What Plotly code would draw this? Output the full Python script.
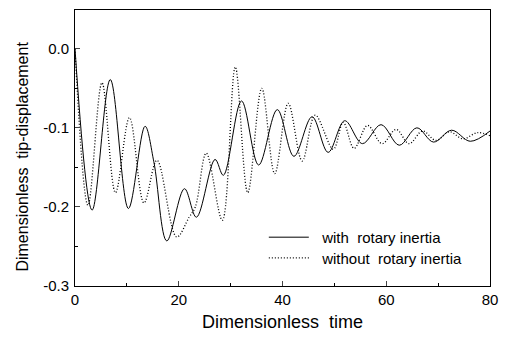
import plotly.graph_objects as go

# with rotary inertia (solid) (extrema points)
t_with = [0, 3.3, 6.8, 10.3, 13.5, 15.2, 17.7, 21.1, 23.4, 27.0, 28.6, 32.1, 35.4, 39.0,
          42.2, 45.7, 48.8, 52.0, 55.4, 59.0, 62.5, 65.9, 69.1, 72.6, 76.2, 80]
y_with = [0.0, -0.204, -0.039, -0.202, -0.098, -0.143, -0.243, -0.177, -0.213, -0.140, -0.160,
          -0.066, -0.147, -0.077, -0.136, -0.086, -0.131, -0.091, -0.120, -0.096, -0.122,
          -0.100, -0.118, -0.103, -0.117, -0.104]

# without rotary inertia (dotted)
t_without = [0, 2.5, 5.2, 7.8, 10.5, 13.3, 15.8, 19.6, 22.0, 23.2, 25.3, 28.4, 30.9, 33.3,
             36.0, 38.5, 41.1, 43.8, 46.3, 49.8, 51.7, 53.8, 56.4, 59.2, 61.9, 64.4, 67.0,
             69.6, 72.2, 74.8, 77.6, 80]
y_without = [0.0, -0.198, -0.043, -0.182, -0.087, -0.195, -0.141, -0.238, -0.213, -0.200,
             -0.132, -0.217, -0.023, -0.182, -0.050, -0.158, -0.069, -0.142, -0.084, -0.127,
             -0.093, -0.126, -0.097, -0.120, -0.102, -0.120, -0.104, -0.116, -0.105, -0.114,
             -0.106, -0.110]

x_ticks = [0, 20, 40, 60, 80]
y_ticks = [-0.3, -0.2, -0.1, 0.0]
y_ticktext = ["-0.3", "-0.2", "-0.1", "0.0"]

FONT = "Liberation Sans, Arial, sans-serif"
GAP = "\u00a0\u00a0"

fig = go.Figure()
fig.add_trace(go.Scatter(x=t_with, y=y_with, mode="lines",
                         name=GAP + "with\u00a0\u00a0rotary inertia", legend="legend",
                         line=dict(color="black", width=1, shape="spline", smoothing=1.0)))
fig.add_trace(go.Scatter(x=t_without, y=y_without, mode="lines",
                         name=GAP + "without\u00a0\u00a0rotary inertia", legend="legend2",
                         line=dict(color="black", width=1.3, dash="1px,2px",
                                   shape="spline", smoothing=1.0)))

leg_common = dict(xanchor="left", yanchor="middle", bgcolor="rgba(0,0,0,0)",
                  font=dict(size=15), itemwidth=40)

fig.update_layout(
    width=507, height=338,
    margin=dict(l=75, r=12, t=9, b=51),
    paper_bgcolor="white", plot_bgcolor="white",
    font=dict(family=FONT, size=15, color="black"),
    showlegend=True,
    legend=dict(x=0.455, y=0.176, **leg_common),
    legend2=dict(x=0.455, y=0.101, **leg_common),
    xaxis=dict(range=[0, 80], tickvals=x_ticks, ticks="inside", ticklen=5,
               showgrid=False, zeroline=False, showline=True, linecolor="black",
               linewidth=1, mirror=True,
               minor=dict(dtick=10, ticks="inside", ticklen=3, tickcolor="black"),
               title=dict(text="Dimensionless\u00a0\u00a0time", standoff=8)),
    yaxis=dict(range=[-0.3, 0.049], tickvals=y_ticks, ticktext=y_ticktext,
               ticks="inside", ticklen=5, ticklabelstandoff=2,
               showgrid=False, zeroline=False, showline=True, linecolor="black",
               linewidth=1, mirror=True,
               minor=dict(dtick=0.05, ticks="inside", ticklen=3, tickcolor="black")),
    annotations=[dict(text="Dimensionless\u00a0\u00a0tip-displacement", textangle=-90,
                      xref="paper", yref="paper", x=(22 - 75) / 420, y=(287 - 157) / 278,
                      xanchor="center", yanchor="middle", showarrow=False,
                      font=dict(size=16))],
)

fig.write_html("out.html")
